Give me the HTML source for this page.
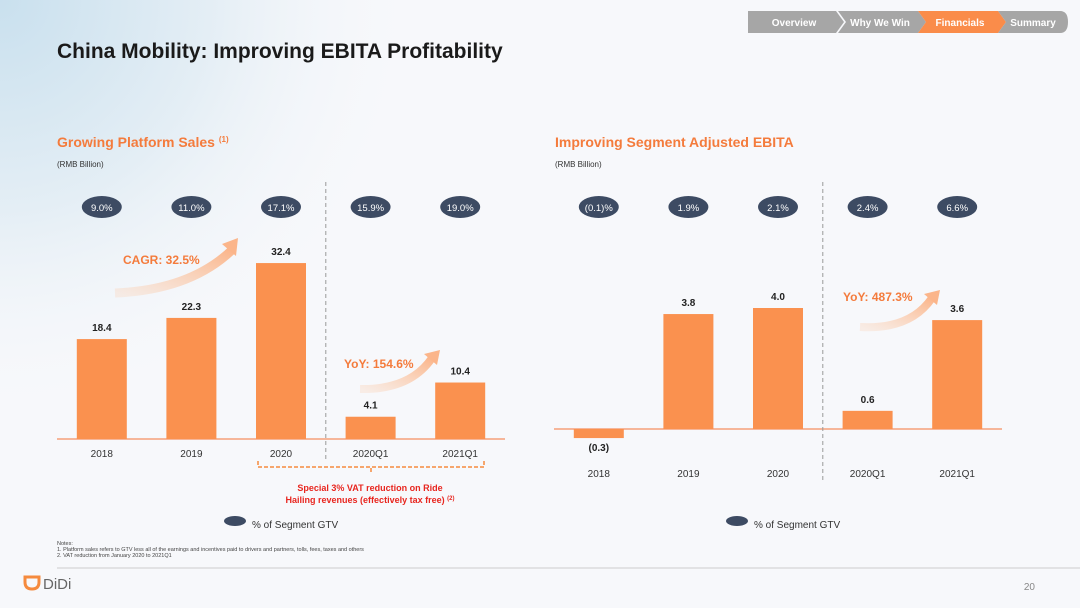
<!DOCTYPE html>
<html><head><meta charset="utf-8"><style>
body{margin:0;width:1080px;height:608px;overflow:hidden;background:#f7f8fb;font-family:"Liberation Sans",sans-serif}
svg{display:block}
text{font-family:"Liberation Sans",sans-serif}
</style></head><body>
<svg id="s" width="1080" height="608" viewBox="0 0 1080 608">
<defs>
<radialGradient id="bg" cx="0" cy="0" r="1"><stop offset="0" stop-color="#c9e0ee"/><stop offset="0.5" stop-color="#e4eef5"/><stop offset="1" stop-color="#f7f8fb" stop-opacity="0"/></radialGradient>
<linearGradient id="arr" x1="0" y1="1" x2="1" y2="0"><stop offset="0" stop-color="#fbd0b3" stop-opacity="0.3"/><stop offset="1" stop-color="#fbb58a"/></linearGradient>
</defs>
<rect x="0" y="0" width="420" height="420" fill="url(#bg)"/>
<g>
<path d="M748 11h88l8 11-8 11h-88z" fill="#a6a6a6"/>
<text x="794" y="26" fill="#fff" font-size="10" font-weight="bold" text-anchor="middle">Overview</text>
<path d="M838 11h80l8 11-8 11h-80l8-11z" fill="#a6a6a6"/>
<text x="880" y="26" fill="#fff" font-size="10" font-weight="bold" text-anchor="middle">Why We Win</text>
<path d="M918 11h80l8 11-8 11h-80l8-11z" fill="#fa8c4a"/>
<text x="960" y="26" fill="#fff" font-size="10" font-weight="bold" text-anchor="middle">Financials</text>
<path d="M998 11h62q8 0 8 11 0 11-8 11h-62l8-11z" fill="#a6a6a6"/>
<text x="1033" y="26" fill="#fff" font-size="10" font-weight="bold" text-anchor="middle">Summary</text>
</g>
<text x="57" y="58" font-size="21" font-weight="bold" fill="#1a1a1a">China Mobility: Improving EBITA Profitability</text>
<text x="57" y="147" font-size="14" font-weight="bold" fill="#f47b3c">Growing Platform Sales <tspan font-size="8" dy="-5">(1)</tspan></text>
<text x="57" y="167" font-size="8" fill="#333">(RMB Billion)</text>
<text x="555" y="147" font-size="14" font-weight="bold" fill="#f47b3c">Improving Segment Adjusted EBITA</text>
<text x="555" y="167" font-size="8" fill="#333">(RMB Billion)</text>
<g id="left"></g>
<g id="right"></g>
<g>
<path d="M115 293 Q190 290 232 250" stroke="url(#arr)" stroke-width="9" fill="none"/><path d="M222 244 L238 238 L236 256z" fill="#fbb58a"/>
<text x="123" y="264" font-size="12" font-weight="bold" fill="#f47b3c">CAGR: 32.5%</text>
<path d="M360 389 Q410 390 432 358" stroke="url(#arr)" stroke-width="8" fill="none"/><path d="M424 354 L440 350 L437 365z" fill="#fbb58a"/>
<text x="344" y="368" font-size="12" font-weight="bold" fill="#f47b3c">YoY: 154.6%</text>
<path d="M860 327 Q910 330 932 298" stroke="url(#arr)" stroke-width="8" fill="none"/><path d="M924 294 L940 290 L937 305z" fill="#fbb58a"/>
<text x="843" y="301" font-size="12" font-weight="bold" fill="#f47b3c">YoY: 487.3%</text>
<path d="M258 461v6h113v5M371 472v-5h113v-6" stroke="#f58a3e" stroke-width="1.5" stroke-dasharray="4 2" fill="none"/>
<text x="370" y="491" font-size="9" font-weight="bold" fill="#e8261f" text-anchor="middle">Special 3% VAT reduction on Ride</text>
<text x="370" y="503" font-size="9" font-weight="bold" fill="#e8261f" text-anchor="middle">Hailing revenues (effectively tax free) <tspan font-size="6" dy="-3">(2)</tspan></text>
<ellipse cx="235" cy="521" rx="11" ry="5" fill="#3d4b63"/>
<text x="252" y="528" font-size="10" fill="#333">% of Segment GTV</text>
<ellipse cx="737" cy="521" rx="11" ry="5" fill="#3d4b63"/>
<text x="754" y="528" font-size="10" fill="#333">% of Segment GTV</text>
<text x="57" y="545" font-size="5.5" fill="#444">Notes:</text>
<text x="57" y="551" font-size="5.5" fill="#444">1.  Platform sales refers to GTV less all of the earnings and incentives paid to drivers and partners, tolls, fees, taxes and others</text>
<text x="57" y="557" font-size="5.5" fill="#444">2.  VAT reduction from January 2020 to 2021Q1</text>
<line x1="57" y1="568" x2="1080" y2="568" stroke="#ccc"/>
<path d="M25 577h14v5q0 7-7 7t-7-7z" fill="none" stroke="#f58a3e" stroke-width="3"/>
<text x="43" y="589" font-size="15" fill="#666">DiDi</text>
<text x="1035" y="590" font-size="10" fill="#888" text-anchor="end">20</text>
</g>
</svg>
<script>
const categories=["2018","2019","2020","2020Q1","2021Q1"];
const salesValues=[18.4,22.3,32.4,4.1,10.4];
const salesLabels=["18.4","22.3","32.4","4.1","10.4"];
const salesPct=["9.0%","11.0%","17.1%","15.9%","19.0%"];
const ebitaValues=[-0.3,3.8,4.0,0.6,3.6];
const ebitaLabels=["(0.3)","3.8","4.0","0.6","3.6"];
const ebitaPct=["(0.1)%","1.9%","2.1%","2.4%","6.6%"];
const NS="http://www.w3.org/2000/svg";
function mk(p,t,a,txt){const e=document.createElementNS(NS,t);for(const k in a)e.setAttribute(k,a[k]);if(txt!==undefined)e.textContent=txt;p.appendChild(e);return e;}
function chart(g,x0,x1,base,scale,vals,labels,pcts,catY,prefix){
  const step=(x1-x0)/5;
  const xs=i=>x0+step*(i+0.5);
  const y=v=>base-v*scale;
  const ax=mk(g,"line",{x1:x0,x2:x1,y1:base,y2:base,stroke:"#f5a07a","stroke-width":1.5});
  
  
  const dv=mk(g,"line",{x1:x0+step*3,x2:x0+step*3,y1:182,y2:catY+4,stroke:"#999","stroke-dasharray":"4 3"});
  
  
  vals.forEach((v,i)=>{
    const cx=xs(i),top=Math.min(y(v),base),h=Math.abs(y(v)-base);
    const r=mk(g,"rect",{x:cx-25,y:top,width:50,height:h,fill:"#fa914f"});
    
    
    const ly=v>=0?y(v)-8:y(v)+13;
    const l=mk(g,"text",{x:cx,y:ly,"font-size":10,"font-weight":"bold","text-anchor":"middle",fill:"#222"},labels[i]);
    
    
    const c=mk(g,"text",{x:cx,y:catY,"font-size":10,"text-anchor":"middle",fill:"#333"},categories[i]);
    
    
    const e=mk(g,"ellipse",{cx:cx,cy:207,rx:20,ry:11,fill:"#3d4b63"});
    
    
    const t=mk(g,"text",{x:cx,y:211,"font-size":9.5,"text-anchor":"middle",fill:"#fff"},pcts[i]);
    
    
  });
}
chart(document.getElementById("left"),57,505,439,5.43,salesValues,salesLabels,salesPct,457,"sales");
chart(document.getElementById("right"),554,1002,429,30.25,ebitaValues,ebitaLabels,ebitaPct,477,"ebita");
</script>
</body></html>
